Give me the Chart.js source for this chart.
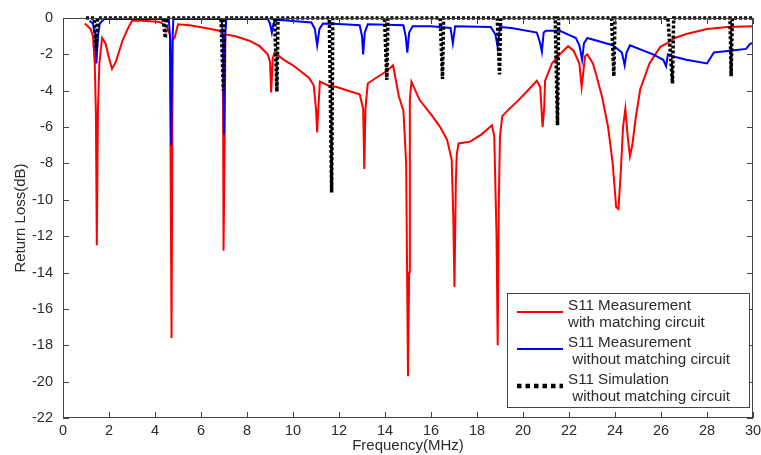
<!DOCTYPE html>
<html>
<head>
<meta charset="utf-8">
<script src="https://cdn.jsdelivr.net/npm/chart.js@4.4.0/dist/chart.umd.min.js"></script>
<style>
  html, body { margin: 0; padding: 0; background: #fff; }
  canvas { display: block; }
</style>
</head>
<body>
<canvas id="chart" width="761" height="455"></canvas>
<script>
const xTicks = [0, 2, 4, 6, 8, 10, 12, 14, 16, 18, 20, 22, 24, 26, 28, 30];
const yTicks = [0, -2, -4, -6, -8, -10, -12, -14, -16, -18, -20, -22];

// S11 measurement with matching circuit (red)
const redFreq = [0.95, 1.2, 1.3, 1.38, 1.43, 1.47, 1.52, 1.58, 1.7, 1.85, 2.0, 2.13, 2.3, 2.6, 2.85, 3.0, 3.5, 4.2, 4.5, 4.65, 4.72, 4.77, 4.85, 5.0, 5.5, 6.2, 6.8, 6.95, 6.98, 7.03, 7.06, 7.5, 8.1, 8.55, 8.9, 9.0, 9.05, 9.12, 9.2, 9.6, 10.0, 10.4, 10.7, 10.9, 11.0, 11.05, 11.1, 11.17, 11.5, 11.9, 12.4, 12.9, 13.05, 13.1, 13.15, 13.25, 13.6, 14.1, 14.35, 14.5, 14.6, 14.8, 14.92, 15.0, 15.05, 15.08, 15.15, 15.5, 16.0, 16.4, 16.7, 16.9, 16.97, 17.02, 17.08, 17.12, 17.2, 17.7, 18.2, 18.65, 18.75, 18.85, 18.9, 18.95, 19.0, 19.1, 19.4, 19.74, 20.2, 20.6, 20.75, 20.85, 20.92, 20.96, 21.26, 21.6, 21.96, 22.2, 22.45, 22.55, 22.62, 22.7, 22.8, 23.04, 23.2, 23.45, 23.7, 23.9, 24.05, 24.15, 24.25, 24.35, 24.45, 24.55, 24.65, 24.75, 24.9, 25.1, 25.5, 25.96, 26.3, 26.6, 27.1, 28.0, 28.9, 30];
const redLoss = [-0.3, -0.6, -1.0, -2.5, -5.2, -12.5, -5.0, -2.5, -1.1, -1.4, -2.2, -2.8, -2.4, -1.2, -0.5, -0.15, -0.15, -0.22, -0.45, -0.9, -17.6, -1.2, -1.1, -0.35, -0.4, -0.55, -0.7, -0.9, -12.8, -6.5, -0.9, -1.0, -1.25, -1.55, -2.0, -2.4, -4.1, -2.2, -1.9, -2.3, -2.6, -3.0, -3.3, -3.7, -5.0, -6.3, -5.0, -3.5, -3.7, -3.8, -4.0, -4.2, -5.0, -8.3, -5.0, -3.6, -3.3, -2.9, -2.6, -3.6, -4.3, -5.1, -8.0, -19.7, -14.0, -4.5, -3.5, -4.5, -5.3, -6.0, -6.7, -7.8, -11.0, -14.8, -9.0, -7.5, -6.9, -6.8, -6.4, -5.9, -6.5, -12.0, -18.0, -10.0, -6.5, -5.4, -5.0, -4.6, -4.0, -3.45, -3.8, -6.0, -5.0, -3.45, -2.5, -2.0, -1.55, -1.8, -2.5, -3.8, -3.0, -2.1, -2.0, -2.5, -3.2, -4.4, -6.0, -8.0, -10.4, -10.5, -8.5, -6.0, -5.0, -6.5, -7.6, -7.0, -5.5, -3.9, -2.5, -1.6, -1.35, -1.1, -0.88, -0.6, -0.5, -0.45];

// S11 measurement without matching circuit (blue)
const blueFreq = [1.15, 1.3, 1.4, 1.45, 1.52, 1.6, 1.8, 4.6, 4.65, 4.7, 4.75, 4.8, 6.9, 6.95, 7.0, 7.05, 7.1, 8.9, 9.0, 9.08, 9.15, 9.3, 10.8, 10.95, 11.05, 11.15, 11.3, 12.0, 12.9, 13.0, 13.05, 13.12, 13.25, 14.8, 14.9, 14.97, 15.05, 15.2, 16.0, 16.85, 16.95, 17.05, 18.6, 18.8, 18.9, 19.0, 19.5, 20.6, 20.75, 20.82, 20.9, 21.0, 21.6, 22.3, 22.45, 22.57, 22.65, 22.8, 23.9, 24.3, 24.42, 24.5, 24.65, 25.65, 26.1, 26.22, 26.3, 26.5, 27.1, 28.0, 28.15, 28.3, 29.0, 29.7, 29.85, 30];
const blueLoss = [-0.15, -0.3, -1.0, -2.5, -1.0, -0.3, -0.05, -0.05, -1.0, -7.0, -1.5, -0.05, -0.05, -1.0, -6.4, -1.0, -0.05, -0.05, -0.3, -0.8, -0.3, -0.1, -0.25, -0.6, -1.5, -0.6, -0.3, -0.33, -0.4, -1.0, -2.0, -0.8, -0.35, -0.4, -1.0, -1.9, -0.8, -0.45, -0.45, -0.55, -1.4, -0.45, -0.5, -0.9, -1.6, -0.5, -0.55, -0.8, -1.4, -1.85, -0.8, -0.7, -0.7, -1.1, -1.5, -2.3, -1.4, -1.1, -1.5, -1.9, -2.6, -1.9, -1.5, -2.0, -2.3, -2.65, -2.0, -2.1, -2.3, -2.5, -2.2, -1.9, -1.8, -1.7, -1.45, -1.35];

// S11 simulation without matching circuit (black dotted)
const simFreq = [1.0, 1.35, 1.45, 1.5, 4.35, 4.45, 4.5, 6.87, 6.97, 7.02, 9.2, 9.3, 9.35, 11.58, 11.68, 11.73, 13.98, 14.08, 14.13, 16.4, 16.5, 16.55, 18.88, 18.98, 19.03, 21.4, 21.5, 21.55, 23.85, 23.95, 24.0, 26.3, 26.5, 26.55, 29.0, 29.05, 29.1, 30];
const simLoss = [0, 0, -1.8, 0, 0, -1.1, 0, 0, -4.0, 0, 0, -4.05, 0, 0, -9.6, 0, 0, -3.4, 0, 0, -3.35, 0, 0, -3.1, 0, 0, -5.9, 0, 0, -3.2, 0, 0, -3.6, 0, 0, -3.2, 0, 0];

const legendItems = [
  { lines: ["S11 Measurement", "with matching circuit"], color: "#ff0000", dash: [], width: 2 },
  { lines: ["S11 Measurement", " without matching circuit"], color: "#0000ff", dash: [], width: 2 },
  { lines: ["S11 Simulation", " without matching circuit"], color: "#000000", dash: [4.5, 4], width: 4.5 },
];

const FONT = "'Liberation Sans', Arial, sans-serif";
const TEXT = "#2b2b2b";

function toPoints(xs, ys) {
  return xs.map((x, i) => ({ x: x, y: ys[i] }));
}

// inward ticks and box, like the original plot
const frameBox = {
  id: "frameBox",
  afterDraw(chart) {
    const { ctx, chartArea: a, scales } = chart;
    ctx.save();
    ctx.strokeStyle = "#444";
    ctx.lineWidth = 1;
    ctx.strokeRect(a.left + 0.5, a.top + 0.5, a.right - a.left - 1, a.bottom - a.top - 1);
    ctx.beginPath();
    xTicks.forEach((v) => {
      const px = Math.round(scales.x.getPixelForValue(v)) + 0.5;
      ctx.moveTo(px, a.bottom); ctx.lineTo(px, a.bottom - 6);
      ctx.moveTo(px, a.top); ctx.lineTo(px, a.top + 6);
    });
    yTicks.forEach((v) => {
      const py = Math.round(scales.y.getPixelForValue(v)) + 0.5;
      ctx.moveTo(a.left, py); ctx.lineTo(a.left + 6, py);
      ctx.moveTo(a.right, py); ctx.lineTo(a.right - 6, py);
    });
    ctx.stroke();
    ctx.restore();
  },
};

// boxed legend in the lower right corner
const boxLegend = {
  id: "boxLegend",
  afterDraw(chart) {
    const { ctx, chartArea: a } = chart;
    const left = a.right - 246, top = a.bottom - 125, w = 242, h = 114;
    ctx.save();
    ctx.fillStyle = "#fff";
    ctx.fillRect(left, top, w, h);
    ctx.strokeStyle = "#444";
    ctx.lineWidth = 1;
    ctx.strokeRect(left + 0.5, top + 0.5, w, h);
    ctx.font = "15.2px " + FONT;
    ctx.textBaseline = "middle";
    legendItems.forEach((it, i) => {
      const y0 = top + 13 + i * 37;
      ctx.beginPath();
      ctx.strokeStyle = it.color;
      ctx.lineWidth = it.width;
      ctx.setLineDash(it.dash);
      ctx.moveTo(left + 10, y0 + 6);
      ctx.lineTo(left + 56, y0 + 6);
      ctx.stroke();
      ctx.setLineDash([]);
      ctx.fillStyle = TEXT;
      ctx.fillText(it.lines[0], left + 61, y0);
      ctx.fillText(it.lines[1], left + 61, y0 + 17);
    });
    ctx.restore();
  },
};

new Chart(document.getElementById("chart"), {
  type: "line",
  data: {
    datasets: [
      {
        label: "S11 Measurement with matching circuit",
        data: toPoints(redFreq, redLoss),
        borderColor: "#ff0000",
        borderWidth: 2,
        order: 3,
      },
      {
        label: "S11 Measurement without matching circuit",
        data: toPoints(blueFreq, blueLoss),
        borderColor: "#0000ff",
        borderWidth: 2,
        order: 2,
      },
      {
        label: "S11 Simulation without matching circuit",
        data: toPoints(simFreq, simLoss),
        borderColor: "#000000",
        borderWidth: 3.5,
        borderDash: [3, 2],
        clip: false,
        order: 1,
      },
    ],
  },
  options: {
    responsive: false,
    animation: false,
    devicePixelRatio: 1,
    layout: { padding: { left: 0, right: 8, top: 18, bottom: 0 } },
    elements: { point: { radius: 0 }, line: { tension: 0, borderJoinStyle: "miter" } },
    plugins: { legend: { display: false }, tooltip: { enabled: false } },
    scales: {
      x: {
        type: "linear",
        min: 0,
        max: 30,
        afterFit: (s) => { s.height = 37; s.paddingRight = 0; s.paddingLeft = 0; },
        afterBuildTicks: (s) => { s.ticks = xTicks.map((v) => ({ value: v })); },
        grid: { display: false, drawTicks: false },
        border: { display: false },
        ticks: { color: TEXT, font: { family: FONT, size: 14.5 }, padding: 4, maxRotation: 0 },
        title: {
          display: true,
          text: "Frequency(MHz)",
          color: TEXT,
          font: { family: FONT, size: 15 },
          padding: { top: 0, bottom: 0 },
        },
      },
      y: {
        type: "linear",
        min: -22,
        max: 0,
        afterFit: (s) => { s.width = 63; s.paddingTop = 0; s.paddingBottom = 0; },
        afterBuildTicks: (s) => { s.ticks = yTicks.map((v) => ({ value: v })); },
        grid: { display: false, drawTicks: false },
        border: { display: false },
        ticks: { color: TEXT, font: { family: FONT, size: 14.5 }, padding: 10 },
        title: {
          display: true,
          text: "Return Loss(dB)",
          color: TEXT,
          font: { family: FONT, size: 15 },
          padding: { top: 12, bottom: 0 },
        },
      },
    },
  },
  plugins: [frameBox, boxLegend],
});
</script>
</body>
</html>
